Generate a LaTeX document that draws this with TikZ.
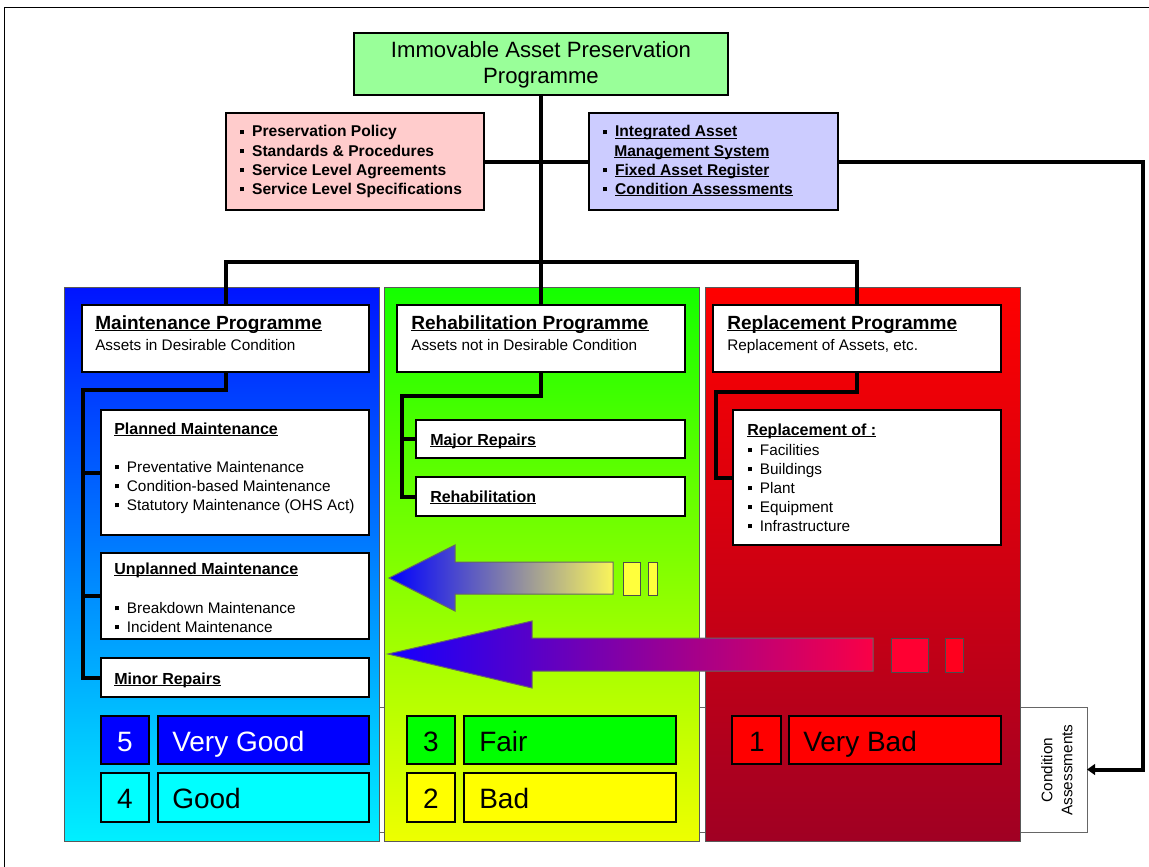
\documentclass[tikz,border=0pt]{standalone}
\usepackage{fontspec}
\setmainfont{Liberation Sans}
\usetikzlibrary{arrows.meta}
\definecolor{titlegreen}{RGB}{153,255,153}
\definecolor{pinkbox}{RGB}{255,204,204}
\definecolor{lavbox}{RGB}{204,204,255}
\definecolor{pLtop}{RGB}{0,20,255}
\definecolor{pLbot}{RGB}{0,240,255}
\definecolor{pMtop}{RGB}{20,255,0}
\definecolor{pMbot}{RGB}{238,255,0}
\definecolor{pRtop}{RGB}{255,0,0}
\definecolor{pRbot}{RGB}{160,0,35}
\definecolor{rblue}{RGB}{0,0,255}
\definecolor{rcyan}{RGB}{0,255,255}
\definecolor{rgreen}{RGB}{0,255,0}
\definecolor{ryellow}{RGB}{255,255,0}
\definecolor{rred}{RGB}{255,0,0}
\definecolor{aoneL}{RGB}{0,0,255}
\definecolor{aoneR}{RGB}{250,245,90}
\definecolor{atwoL}{RGB}{20,0,255}
\definecolor{atwoR}{RGB}{250,0,70}
\definecolor{smyel}{RGB}{255,255,60}
\definecolor{smredA}{RGB}{255,0,50}
\definecolor{smredB}{RGB}{255,0,30}
\newcommand\bul{\rule[0.17em]{0.26em}{0.26em}\hspace{0.5em}}
\newsavebox{\myulbox}
\newcommand\myul[1]{\sbox{\myulbox}{#1}\rlap{\rule[-1.8pt]{\wd\myulbox}{0.8pt}}\usebox{\myulbox}}
\newcommand\mkbox[6]{%
 \pgfmathsetmacro\mkW{(#5-#3)*0.75}%
 \pgfmathsetmacro\mkH{(#6-#4)*0.75}%
 \node[#2, minimum width=\mkW pt, minimum height=\mkH pt, inner sep=0pt, outer sep=0pt] (#1) at ({(#3+#5)/2},{(#4+#6)/2}) {};}
\tikzset{
 blk/.style={draw=black, line width=1.5pt},
 conn/.style={draw=black, line width=3pt},
 panel/.style={draw=black!65, line width=0.6pt},
 condbox/.style={draw=black!60, line width=0.75pt, fill=white},
 txt/.style={anchor=base west, inner sep=0pt, font=\fontsize{11.5}{14}\selectfont},
 txtb/.style={anchor=base west, inner sep=0pt, font=\bfseries\fontsize{11.7}{14}\selectfont},
 subt/.style={anchor=base west, inner sep=0pt, font=\bfseries\fontsize{12}{14}\selectfont},
 prog/.style={anchor=base west, inner sep=0pt, font=\bfseries\fontsize{14.3}{16}\selectfont},
 ratenum/.style={anchor=base, inner sep=0pt, font=\fontsize{21}{24}\selectfont},
 ratelbl/.style={anchor=base west, inner sep=0pt, font=\fontsize{21}{24}\selectfont},
 smallrect/.style={draw=black!70, line width=0.75pt},
 bigarrow/.style={draw=black!60, line width=0.75pt},
 ttl/.style={anchor=base, inner sep=0pt, font=\fontsize{16.6}{20}\selectfont},
}
\begin{document}
\begin{tikzpicture}[x=0.75pt,y=-0.75pt]
\useasboundingbox (0,0) rectangle (1149,867);
\draw[line width=1pt] (4.5,867) -- (4.5,7.5) -- (1149,7.5);

% background strip with condition assessments
\mkbox{cond}{condbox}{64}{707}{1087}{832}
\node[rotate=90, align=center, inner sep=0pt, font=\fontsize{11.5}{15}\selectfont] (condtxt) at (1057,770) {Condition\\Assessments};

% panels
\mkbox{pL}{panel, top color=pLtop, bottom color=pLbot}{64}{287}{379}{841}
\mkbox{pM}{panel, top color=pMtop, bottom color=pMbot}{384}{287}{699}{841}
\mkbox{pR}{panel, top color=pRtop, bottom color=pRbot}{705}{287}{1020}{841}

% top boxes
\mkbox{title}{blk, fill=titlegreen}{354}{33}{728}{95}
\mkbox{pol}{blk, fill=pinkbox}{226}{113}{484}{210}
\mkbox{ias}{blk, fill=lavbox}{589}{113}{838}{210}

% programme boxes
\mkbox{mp}{blk, fill=white}{82}{305}{369}{372}
\mkbox{rb}{blk, fill=white}{397}{305}{685}{372}
\mkbox{rpl}{blk, fill=white}{713}{305}{1001}{372}

% sub boxes
\mkbox{planned}{blk, fill=white}{101}{410}{369}{535}
\mkbox{unpl}{blk, fill=white}{101}{553}{369}{639}
\mkbox{minor}{blk, fill=white}{101}{658}{369}{697}
\mkbox{major}{blk, fill=white}{416}{420}{685}{458}
\mkbox{rehab}{blk, fill=white}{416}{477}{685}{516}
\mkbox{replof}{blk, fill=white}{733}{410}{1001}{545}

% connectors
\coordinate (hub) at (541,262);
\coordinate (cr) at (1143,161.5);
\draw[conn] (title.south) -- (hub);
\draw[conn] (pol.east) -- (ias.west);
\draw[conn, -{Triangle[length=6pt,width=8pt]}] (ias.east) -- (cr) |- (cond.east);
\draw[conn] (mp.north) -- (mp.north |- hub) -- (rpl.north |- hub) -- (rpl.north);
\draw[conn] (hub) -- (rb.north);
\coordinate (lv) at (83,390);
\draw[conn] (mp.south) |- (lv) |- (minor.west);
\draw[conn] (lv |- planned.west) -- (planned.west);
\draw[conn] (lv |- unpl.west) -- (unpl.west);
\coordinate (mv) at (402,396);
\draw[conn] (rb.south) |- (mv) |- (rehab.west);
\draw[conn] (mv |- major.west) -- (major.west);
\coordinate (rv) at (716,392);
\draw[conn] (rpl.south) |- (rv) |- (replof.west);

% title text
\node[ttl] (tt1) at (541,58) {Immovable Asset Preservation};
\node[ttl] (tt2) at (541,84) {Programme};

% pink box text
\node[txtb] (pp1) at (240,137) {\bul Preservation Policy};
\node[txtb] (pp2) at (240,156) {\bul Standards \& Procedures};
\node[txtb] (pp3) at (240,175) {\bul Service Level Agreements};
\node[txtb] (pp4) at (240,194) {\bul Service Level Specifications};

% blue box text
\node[txtb] (bb1) at (603,137) {\bul\myul{Integrated Asset}};
\node[txtb] (bb2) at (614,156) {\myul{Management System}};
\node[txtb] (bb3) at (603,175) {\bul\myul{Fixed Asset Register}};
\node[txtb] (bb4) at (603,194) {\bul\myul{Condition Assessments}};

% programme texts
\node[prog] (mpt) at (95,329) {\myul{Maintenance Programme}};
\node[txt] (mps) at (95,350) {Assets in Desirable Condition};
\node[prog] (rbt) at (411,329) {\myul{Rehabilitation Programme}};
\node[txt] (rbs) at (411,350) {Assets not in Desirable Condition};
\node[prog] (rplt) at (727,329) {\myul{Replacement Programme}};
\node[txt] (rpls) at (727,350) {Replacement of Assets, etc.};

% left sub texts
\node[subt] (plt) at (114,434) {\myul{Planned Maintenance}};
\node[txt] (pl1) at (115,472) {\bul Preventative Maintenance};
\node[txt] (pl2) at (115,491) {\bul Condition-based Maintenance};
\node[txt] (pl3) at (115,510) {\bul Statutory Maintenance (OHS Act)};
\node[subt] (unt) at (114,574) {\myul{Unplanned Maintenance}};
\node[txt] (un1) at (115,613) {\bul Breakdown Maintenance};
\node[txt] (un2) at (115,632) {\bul Incident Maintenance};
\node[subt] (mrt) at (114,684) {\myul{Minor Repairs}};

% middle sub texts
\node[subt] (mjt) at (430,445) {\myul{Major Repairs}};
\node[subt] (rht) at (430,502) {\myul{Rehabilitation}};

% right sub texts
\node[subt] (rot) at (747,435) {\myul{Replacement of :}};
\node[txt] (ro1) at (748,455) {\bul Facilities};
\node[txt] (ro2) at (748,474) {\bul Buildings};
\node[txt] (ro3) at (748,493) {\bul Plant};
\node[txt] (ro4) at (748,512) {\bul Equipment};
\node[txt] (ro5) at (748,531) {\bul Infrastructure};

% arrows
\shadedraw[bigarrow, left color=aoneL, right color=aoneR] (389,578) -- (455,545) -- (455,562) -- (613,562) -- (613,594) -- (455,594) -- (455,611) -- cycle;
\mkbox{sa1}{smallrect, fill=smyel}{623}{562}{640}{595}
\mkbox{sa2}{smallrect, fill=smyel}{648}{562}{657}{595}
\shadedraw[bigarrow, left color=atwoL, right color=atwoR] (388,654) -- (532,621) -- (532,638) -- (873,638) -- (873,671) -- (532,671) -- (532,688) -- cycle;
\mkbox{sb1}{smallrect, fill=smredA}{891}{638}{928}{672}
\mkbox{sb2}{smallrect, fill=smredB}{945}{638}{963}{672}

% rating boxes
\mkbox{r5n}{blk, fill=rblue}{101}{716}{149}{764}
\mkbox{r5t}{blk, fill=rblue}{158}{716}{369}{764}
\mkbox{r4n}{blk, fill=rcyan}{101}{773}{149}{822}
\mkbox{r4t}{blk, fill=rcyan}{158}{773}{369}{822}
\mkbox{r3n}{blk, fill=rgreen}{407}{716}{455}{764}
\mkbox{r3t}{blk, fill=rgreen}{464}{716}{676}{764}
\mkbox{r2n}{blk, fill=ryellow}{407}{773}{455}{822}
\mkbox{r2t}{blk, fill=ryellow}{464}{773}{676}{822}
\mkbox{r1n}{blk, fill=rred}{732}{716}{781}{764}
\mkbox{r1t}{blk, fill=rred}{789}{716}{1001}{764}

\node[ratenum, text=white] (n5) at (125,751) {5};
\node[ratelbl, text=white] (l5) at (172,751) {Very Good};
\node[ratenum] (n4) at (125,808) {4};
\node[ratelbl] (l4) at (172,808) {Good};
\node[ratenum] (n3) at (431,751) {3};
\node[ratelbl] (l3) at (479,751) {Fair};
\node[ratenum] (n2) at (431,808) {2};
\node[ratelbl] (l2) at (479,808) {Bad};
\node[ratenum] (n1) at (757,751) {1};
\node[ratelbl] (l1) at (803,751) {Very Bad};
\end{tikzpicture}
\end{document}
